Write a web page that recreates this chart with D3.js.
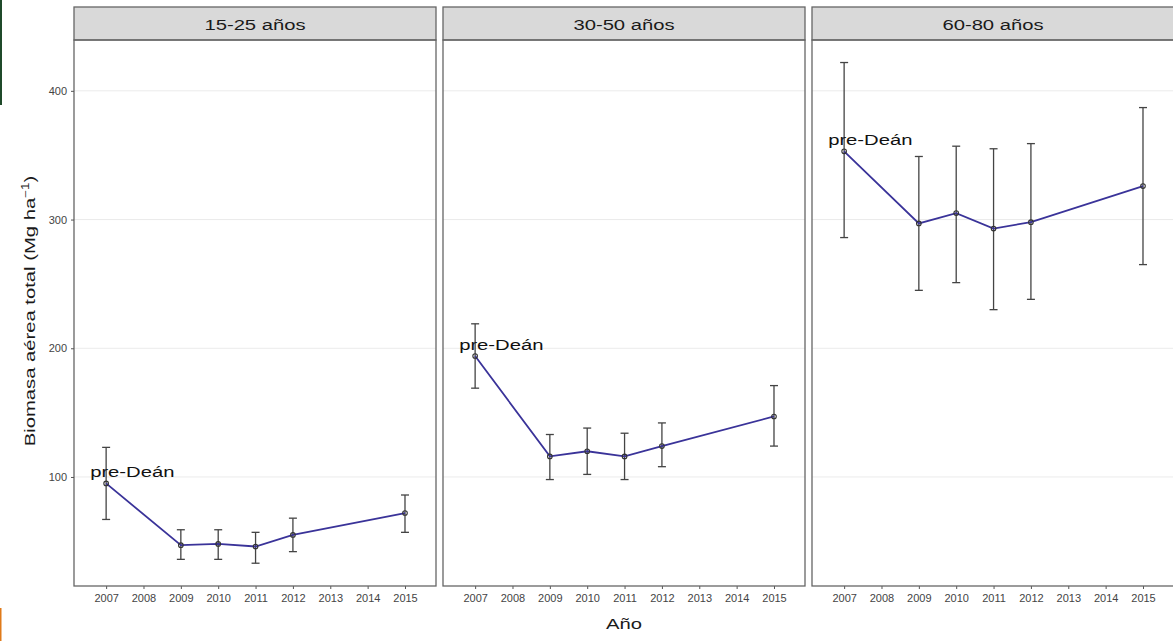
<!DOCTYPE html>
<html>
<head>
<meta charset="utf-8">
<script src="https://cdn.jsdelivr.net/npm/d3@7"></script>
<style>
  body { margin: 0; background: #fff; }
  text { font-family: Arial, "Liberation Sans", sans-serif; }
</style>
</head>
<body>
<div id="chart"></div>
<script>
// ===============Data
var panels = ["15-25 años", "30-50 años", "60-80 años"];
var years = [2007, 2009, 2010, 2011, 2012, 2015];
var tickYears = [2007, 2008, 2009, 2010, 2011, 2012, 2013, 2014, 2015];
var yTicks = [100, 200, 300, 400];

var mean1525 = [95, 47, 48, 46, 55, 72];
var low1525 = [67, 36, 36, 33, 42, 57];
var high1525 = [123, 59, 59, 57, 68, 86];

var mean3050 = [194, 116, 120, 116, 124, 147];
var low3050 = [169, 98, 102, 98, 108, 124];
var high3050 = [219, 133, 138, 134, 142, 171];

var mean6080 = [353, 297, 305, 293, 298, 326];
var low6080 = [286, 245, 251, 230, 238, 265];
var high6080 = [422, 349, 357, 355, 359, 387];

var means = [mean1525, mean3050, mean6080];
var lows = [low1525, low3050, low6080];
var highs = [high1525, high3050, high6080];
var labelText = "pre-Deán";

// ===========Sizes
var svgWidth = 1173;
var svgHeight = 641;
var panelLeft = [74, 443, 812];
var panelWidth = 362;
var stripTop = 7;
var plotTop = 40;
var plotBottom = 586;
var stretch = 1.35;

var svg = d3.select("#chart").append("svg")
    .attr("width", svgWidth)
    .attr("height", svgHeight);

// small edge artifacts of the original picture
svg.append("rect").attr("x", 0).attr("y", 0).attr("width", 2).attr("height", 105).attr("fill", "#1f4a2a");
svg.append("rect").attr("x", 0).attr("y", 608).attr("width", 1.5).attr("height", 33).attr("fill", "#e07a1a");

// ==========Scales
var yScale = d3.scaleLinear()
    .domain([15.3, 439.5])
    .range([plotBottom, plotTop]);

var xScale = d3.scaleLinear()
    .domain([2006.14, 2015.83])
    .range([0, panelWidth]);

// ==========Panels
panels.forEach(function(name, i) {
    var g = svg.append("g")
        .attr("transform", `translate(${panelLeft[i]}, 0)`);

    // grid
    g.selectAll(".grid")
        .data(yTicks)
        .enter()
        .append("line")
        .attr("x1", 0)
        .attr("x2", panelWidth)
        .attr("y1", d => yScale(d))
        .attr("y2", d => yScale(d))
        .attr("stroke", "#ebebeb")
        .attr("stroke-width", 1);

    // x axis ticks + labels
    var xAxis = d3.axisBottom(xScale)
        .tickValues(tickYears)
        .tickFormat(d3.format("d"))
        .tickSize(3)
        .tickPadding(5);

    var xg = g.append("g")
        .attr("transform", `translate(0, ${plotBottom})`)
        .call(xAxis);
    xg.select(".domain").remove();
    xg.selectAll("line").attr("stroke", "#555");
    xg.selectAll("text")
        .attr("fill", "#444")
        .attr("font-size", "11px")
        .style("font-family", "Arial, 'Liberation Sans', sans-serif");

    // strip
    g.append("rect")
        .attr("x", 0)
        .attr("y", stripTop)
        .attr("width", panelWidth)
        .attr("height", plotTop - stripTop)
        .attr("fill", "#d9d9d9")
        .attr("stroke", "#666")
        .attr("stroke-width", 1.3);

    g.append("text")
        .attr("transform", `translate(${panelWidth / 2}, 30) scale(${stretch}, 1)`)
        .attr("text-anchor", "middle")
        .attr("font-size", "15px")
        .attr("fill", "#1a1a1a")
        .text(name);

    // panel border
    g.append("rect")
        .attr("x", 0)
        .attr("y", plotTop)
        .attr("width", panelWidth)
        .attr("height", plotBottom - plotTop)
        .attr("fill", "none")
        .attr("stroke", "#666")
        .attr("stroke-width", 1.3);

    var rows = years.map(function(yr, j) {
        return { year: yr, mean: means[i][j], low: lows[i][j], high: highs[i][j] };
    });

    // error bars
    var eb = g.selectAll(".eb")
        .data(rows)
        .enter()
        .append("g");

    eb.append("line")
        .attr("x1", d => xScale(d.year))
        .attr("x2", d => xScale(d.year))
        .attr("y1", d => yScale(d.low))
        .attr("y2", d => yScale(d.high))
        .attr("stroke", "#444")
        .attr("stroke-width", 1.3);

    eb.append("line")
        .attr("x1", d => xScale(d.year) - 4)
        .attr("x2", d => xScale(d.year) + 4)
        .attr("y1", d => yScale(d.low))
        .attr("y2", d => yScale(d.low))
        .attr("stroke", "#444")
        .attr("stroke-width", 1.3);

    eb.append("line")
        .attr("x1", d => xScale(d.year) - 4)
        .attr("x2", d => xScale(d.year) + 4)
        .attr("y1", d => yScale(d.high))
        .attr("y2", d => yScale(d.high))
        .attr("stroke", "#444")
        .attr("stroke-width", 1.3);

    // mean line
    var line = d3.line()
        .x(d => xScale(d.year))
        .y(d => yScale(d.mean));

    g.append("path")
        .datum(rows)
        .attr("d", line)
        .attr("fill", "none")
        .attr("stroke", "#3a3399")
        .attr("stroke-width", 1.8);

    g.selectAll(".pt")
        .data(rows)
        .enter()
        .append("circle")
        .attr("cx", d => xScale(d.year))
        .attr("cy", d => yScale(d.mean))
        .attr("r", 2.3)
        .attr("fill", "none")
        .attr("stroke", "#333")
        .attr("stroke-width", 1.1);

    // pre-Deán label on first point
    g.append("text")
        .attr("transform", `translate(${xScale(rows[0].year) - 16}, ${yScale(rows[0].mean) - 6}) scale(${stretch}, 1)`)
        .attr("font-size", "15px")
        .attr("fill", "#111")
        .text(labelText);
});

// ===========y axis on the first panel
var yAxis = d3.axisLeft(yScale)
    .tickValues(yTicks)
    .tickSize(3)
    .tickPadding(4);

var yg = svg.append("g")
    .attr("transform", `translate(${panelLeft[0]}, 0)`)
    .call(yAxis);
yg.select(".domain").remove();
yg.selectAll("line").attr("stroke", "#555");
yg.selectAll("text")
    .attr("fill", "#444")
    .attr("font-size", "11px")
    .style("font-family", "Arial, 'Liberation Sans', sans-serif");

// ===========Axis titles
var yTitle = svg.append("text")
    .attr("transform", `translate(35, 311) rotate(-90) scale(${stretch}, 1)`)
    .attr("text-anchor", "middle")
    .attr("font-size", "15px")
    .attr("fill", "#1a1a1a");
yTitle.append("tspan").text("Biomasa aérea total (Mg ha");
yTitle.append("tspan").attr("dy", -6).attr("font-size", "10px").text("−1");
yTitle.append("tspan").attr("dy", 6).text(")");

svg.append("text")
    .attr("transform", `translate(${(panelLeft[0] + panelLeft[2] + panelWidth) / 2}, 629) scale(${stretch}, 1)`)
    .attr("text-anchor", "middle")
    .attr("font-size", "15px")
    .attr("fill", "#1a1a1a")
    .text("Año");
</script>
</body>
</html>
